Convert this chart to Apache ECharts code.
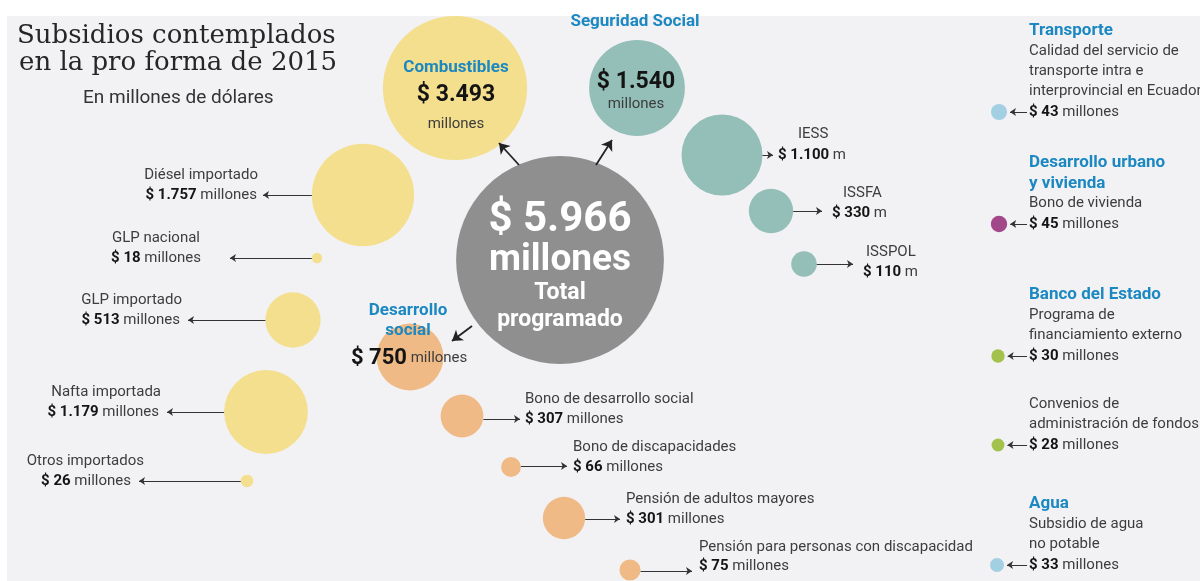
<!DOCTYPE html>
<html>
<head>
<meta charset="utf-8">
<script src="https://cdn.jsdelivr.net/npm/echarts@6/dist/echarts.min.js"></script>
<style>
html,body{margin:0;padding:0;background:#fff;}
#chart{width:1200px;height:581px;}
</style>
</head>
<body>
<div id="chart"></div>
<script>
// ---------------- DATA ----------------
const totalValue = 5966;
const groupNames = ['Combustibles', 'Seguridad Social', 'Desarrollo social'];
const groupValues = [3493, 1540, 750];
const fuelNames = ['Diésel importado', 'GLP nacional', 'GLP importado', 'Nafta importada', 'Otros importados'];
const fuelValues = [1757, 18, 513, 1179, 26];
const securityNames = ['IESS', 'ISSFA', 'ISSPOL'];
const securityValues = [1100, 330, 110];
const socialNames = ['Bono de desarrollo social', 'Bono de discapacidades', 'Pensión de adultos mayores', 'Pensión para personas con discapacidad'];
const socialValues = [307, 66, 301, 75];
const otherHeadings = [['Transporte'], ['Desarrollo urbano', 'y vivienda'], ['Banco del Estado'], [], ['Agua']];
const otherLines = [['Calidad del servicio de', 'transporte intra e', 'interprovincial en Ecuador'], ['Bono de vivienda'], ['Programa de', 'financiamiento externo'], ['Convenios de', 'administración de fondos'], ['Subsidio de agua', 'no potable']];
const otherValues = [43, 45, 30, 28, 33];

// ---------------- LAYOUT (positions only) ----------------
const L = {
  total: [560, 260],
  groups: [[455, 88], [637, 88], [410, 357]],
  fuel: [[363, 195], [317, 258], [293, 320], [266, 412], [247, 481]],
  fuelArrowEnd: [263, 230, 188, 167, 139],
  fuelNameRight: [258, 200, 182, 161, 144],
  fuelAmtRight: [257, 201, 180, 159, 131],
  security: [[722, 155], [771, 211], [804, 264]],
  secArrowEnd: [773, 822, 853],
  secNameX: [798, 843, 866],
  secAmtX: [778, 832, 863],
  secNameY: [134, 193, 252],
  secAmtY: [155, 213, 272],
  social: [[462, 416], [511, 467], [564, 518], [630, 570]],
  socArrowEnd: [520, 567, 620, 692],
  socArrowY: [419, 466, 519, 571],
  socTextX: [525, 573, 626, 699],
  socNameY: [399, 447, 499, 547],
  socAmtY: [419, 467, 519, 566],
  other: [[999, 112], [999, 224], [998, 356], [998, 445], [997, 565]],
  otherTextX: 1029
};
const K = 1.22;       // radius per sqrt(value)
const K_TOTAL = 1.345;
const radius = v => K * Math.sqrt(v);

const C = {
  fuel: '#f4df8e', sec: '#93bfb8', soc: '#efba86', total: '#8f8f90',
  blue: '#1b88c2', text: '#3d3d3d', bold: '#141414',
  other: ['#8fc6de', '#8e1c70', '#8db521', '#8db521', '#8fc6de']
};
const SANS = 'Roboto, "Noto Sans", sans-serif';
const fmt = v => String(v).replace(/\B(?=(\d{3})+(?!\d))/g, '.');

const RICH = {
  b: { fontFamily: SANS, fontSize: 15, fontWeight: 'bold', fill: C.bold },
  bb: { fontFamily: SANS, fontSize: 22, fontWeight: 'bold', fill: C.bold }
};
function txt(x, y, text, o) {
  o = o || {};
  return {
    type: 'text', x: x, y: y, z: 100, silent: true,
    style: {
      text: text, fill: o.fill || C.text, fontFamily: o.family || SANS,
      fontSize: o.size || 15, fontWeight: o.weight || 'normal',
      textAlign: o.align || 'left', textVerticalAlign: 'middle', verticalAlign: 'middle',
      rich: RICH
    }
  };
}
const amt = v => '{b|$ ' + fmt(v) + '} millones';

// ---------------- SERIES ----------------
function bubbleSeries(points, values, color, k) {
  return {
    type: 'scatter', clip: false, z: 3,
    data: values.map((v, i) => [points[i][0], points[i][1], v]),
    symbol: 'circle',
    symbolSize: d => 2 * (k || K) * Math.sqrt(d[2]),
    itemStyle: { color: color, opacity: 1 },
    emphasis: { disabled: true },
    silent: true
  };
}
const arrows = [];
// from total to groups
arrows.push({ coords: [[519, 165], [499, 143]], w: 1.8, s: 9 });
arrows.push({ coords: [[596, 165], [612, 140]], w: 1.8, s: 9 });
arrows.push({ coords: [[472, 326], [452, 341]], w: 1.8, s: 9 });
fuelValues.forEach((v, i) => {
  const [cx, cy] = L.fuel[i];
  arrows.push({ coords: [[cx - radius(v), cy], [L.fuelArrowEnd[i], cy]], w: 1, s: 5 });
});
securityValues.forEach((v, i) => {
  const [cx, cy] = L.security[i];
  arrows.push({ coords: [[cx + radius(v), cy], [L.secArrowEnd[i], cy]], w: 1, s: 5 });
});
socialValues.forEach((v, i) => {
  const [cx] = L.social[i];
  arrows.push({ coords: [[cx + radius(v), L.socArrowY[i]], [L.socArrowEnd[i], L.socArrowY[i]]], w: 1, s: 5 });
});
otherValues.forEach((v, i) => {
  const [cx, cy] = L.other[i];
  arrows.push({ coords: [[1027, cy], [cx + radius(v) + 3, cy]], w: 1, s: 5 });
});
const arrowSeries = [false, true].map(big => ({
  type: 'lines', coordinateSystem: 'cartesian2d', z: 4, silent: true,
  symbol: ['none', 'arrow'], symbolSize: big ? 10 : 6,
  lineStyle: { color: big ? '#222' : '#333', width: big ? 1.8 : 1, opacity: 1 },
  data: arrows.filter(a => (a.w > 1) === big).map(a => ({ coords: a.coords }))
}));

// ---------------- TEXTS ----------------
const G = [];
G.push({ type: 'rect', z: -10, silent: true, shape: { x: 7, y: 16, width: 1193, height: 565 }, style: { fill: '#f2f2f4' } });
G.push(txt(17, 36, 'Subsidios contemplados', { family: '"DejaVu Serif", serif', size: 26, fill: '#262626' }));
G.push(txt(19, 63, 'en la pro forma de 2015', { family: '"DejaVu Serif", serif', size: 26, fill: '#262626' }));
G.push(txt(83, 98, 'En millones de dólares', { size: 19, fill: '#333' }));

// total
G.push(txt(L.total[0], 220, '$ ' + fmt(totalValue), { size: 42, weight: 'bold', fill: '#fff', align: 'center' }));
G.push(txt(L.total[0], 261, 'millones', { size: 37, weight: 'bold', fill: '#fff', align: 'center' }));
G.push(txt(L.total[0], 293, 'Total', { size: 23, weight: 'bold', fill: '#fff', align: 'center' }));
G.push(txt(L.total[0], 320, 'programado', { size: 23, weight: 'bold', fill: '#fff', align: 'center' }));

// Combustibles
G.push(txt(456, 68, groupNames[0], { size: 17, weight: 'bold', fill: C.blue, align: 'center' }));
G.push(txt(456, 95, '$ ' + fmt(groupValues[0]), { size: 23, weight: 'bold', fill: C.bold, align: 'center' }));
G.push(txt(456, 124, 'millones', { size: 15, align: 'center' }));
// Seguridad Social
G.push(txt(635, 22, groupNames[1], { size: 17, weight: 'bold', fill: C.blue, align: 'center' }));
G.push(txt(636, 82, '$ ' + fmt(groupValues[1]), { size: 23, weight: 'bold', fill: C.bold, align: 'center' }));
G.push(txt(636, 104, 'millones', { size: 15, align: 'center' }));
// Desarrollo social
const ds = groupNames[2].split(' ');
G.push(txt(408, 311, ds[0], { size: 17, weight: 'bold', fill: C.blue, align: 'center' }));
G.push(txt(408, 331, ds[1], { size: 17, weight: 'bold', fill: C.blue, align: 'center' }));
G.push(txt(351, 358, '{bb|$ ' + fmt(groupValues[2]) + '} millones', { size: 15 }));

// fuel labels
fuelNames.forEach((n, i) => {
  const cy = L.fuel[i][1];
  G.push(txt(L.fuelNameRight[i], cy - 20, n, { align: 'right' }));
  G.push(txt(L.fuelAmtRight[i], cy, amt(fuelValues[i]), { align: 'right' }));
});
// security labels
securityNames.forEach((n, i) => {
  G.push(txt(L.secNameX[i], L.secNameY[i], n, {}));
  G.push(txt(L.secAmtX[i], L.secAmtY[i], '{b|$ ' + fmt(securityValues[i]) + '} m', {}));
});
// social labels
socialNames.forEach((n, i) => {
  G.push(txt(L.socTextX[i], L.socNameY[i], n, {}));
  G.push(txt(L.socTextX[i], L.socAmtY[i], amt(socialValues[i]), {}));
});
// right column
otherValues.forEach((v, i) => {
  const cy = L.other[i][1];
  const lines = otherLines[i], heads = otherHeadings[i];
  G.push(txt(L.otherTextX, cy, amt(v), {}));
  lines.forEach((s, j) => G.push(txt(L.otherTextX, cy - 20.3 * (lines.length - j), s, {})));
  heads.forEach((s, j) => G.push(txt(L.otherTextX, cy - 20.3 * (lines.length + heads.length - j), s, { size: 17, weight: 'bold', fill: C.blue })));
});

// ---------------- CHART ----------------
const chart = echarts.init(document.getElementById('chart'));
chart.setOption({
  backgroundColor: '#ffffff',
  animation: false,
  grid: { left: 0, right: 0, top: 0, bottom: 0 },
  xAxis: { type: 'value', min: 0, max: 1200, show: false },
  yAxis: { type: 'value', min: 0, max: 581, inverse: true, show: false },
  graphic: { elements: G },
  series: [
    bubbleSeries([L.total], [totalValue], C.total, K_TOTAL),
    bubbleSeries([L.groups[0]], [groupValues[0]], C.fuel),
    bubbleSeries([L.groups[1]], [groupValues[1]], C.sec),
    bubbleSeries([L.groups[2]], [groupValues[2]], C.soc),
    bubbleSeries(L.fuel, fuelValues, C.fuel),
    bubbleSeries(L.security, securityValues, C.sec),
    bubbleSeries(L.social, socialValues, C.soc),
    Object.assign(bubbleSeries(L.other, otherValues, C.fuel), {
      itemStyle: { color: p => C.other[p.dataIndex] }
    })
  ].concat(arrowSeries)
});
</script>
</body>
</html>
